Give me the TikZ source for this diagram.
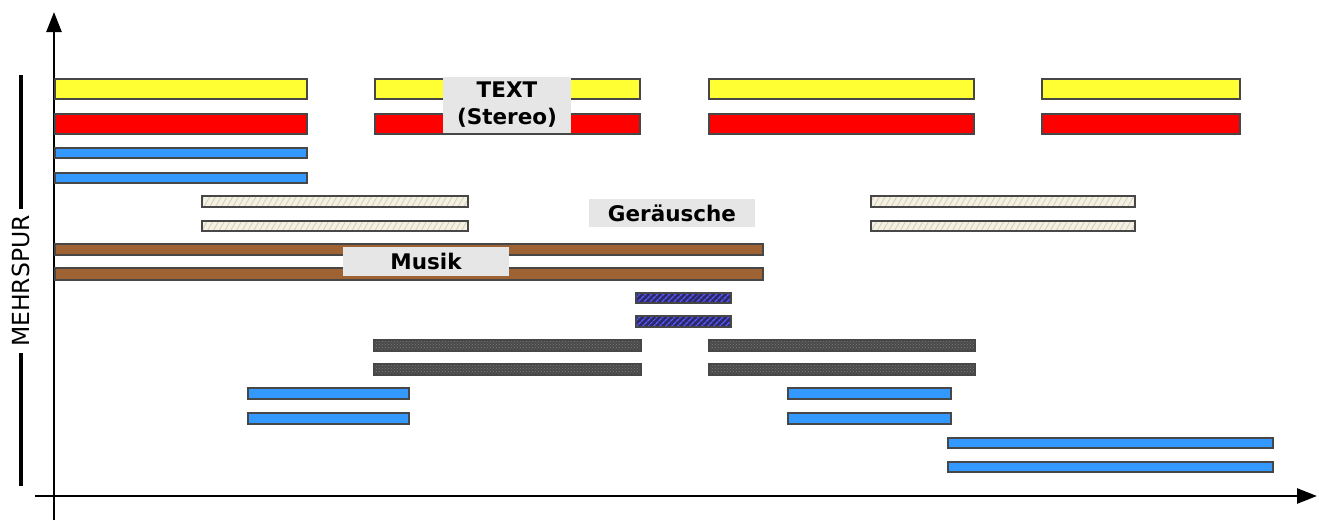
\documentclass[tikz,border=0pt]{standalone}
\usepackage{fontspec}
\setmainfont{DejaVu Sans}
\usetikzlibrary{arrows.meta,patterns,patterns.meta}

\definecolor{barline}{HTML}{474747}
\definecolor{txtyellow}{HTML}{FFFF33}
\definecolor{txtred}{HTML}{FF0000}
\definecolor{trackblue}{HTML}{3399FF}
\definecolor{music}{HTML}{9E6233}
\definecolor{noise}{HTML}{F4F0E2}
\definecolor{noiseline}{HTML}{D2CCBA}
\definecolor{darktrack}{HTML}{4A4A4A}
\definecolor{darkdots}{HTML}{7A7A7A}
\definecolor{hatchbase}{HTML}{2A2A6A}
\definecolor{hatchline}{HTML}{5A5AFF}
\definecolor{tag}{HTML}{E6E6E6}

\tikzset{
  axisline/.style={line width=2.5pt, -{Triangle[length=20pt,width=15pt]}},
  bar/.style={draw=barline, line width=2.6pt},
  textbar/.style={bar, fill=txtyellow},
  stereobar/.style={bar, fill=txtred},
  bluebar/.style={bar, fill=trackblue},
  musicbar/.style={bar, fill=music},
  noisebar/.style={bar, preaction={fill=noise},
    pattern={Lines[angle=60,distance=5pt,line width=0.8pt]}, pattern color=noiseline},
  hatchbar/.style={bar, preaction={fill=hatchbase},
    pattern={Lines[angle=45,distance=4pt,line width=1.4pt]}, pattern color=hatchline},
  darkbar/.style={bar, preaction={fill=darktrack},
    pattern=crosshatch dots, pattern color=darkdots},
  tagbox/.style={fill=tag, inner sep=0pt, align=center,
    font=\bfseries\fontsize{21.5}{27}\selectfont},
}

\begin{document}
\begin{tikzpicture}[x=1pt,y=-1pt]
\useasboundingbox (0,0) rectangle (1319,520);

% axes
\draw[axisline] (54,520) -- (54,12);
\draw[axisline] (35,496) -- (1317,496);

% side label with its bar
\draw[line width=3.8pt] (21,75) -- (21,486);
\node[fill=white, rotate=90, inner xsep=6pt, inner ysep=2pt,
      font=\fontsize{23.5}{27}\selectfont] (mehrspur) at (21,281) {MEHRSPUR};

% text tracks (stereo)
\foreach \a/\b in {55/307, 375/640, 709/974, 1042/1240}{
  \draw[textbar]   (\a,79)  rectangle (\b,99);
  \draw[stereobar] (\a,114) rectangle (\b,134);
}

% blue tracks, first block
\draw[bluebar] (55,148) rectangle (307,158);
\draw[bluebar] (55,173) rectangle (307,183);

% noise tracks
\foreach \a/\b in {202/468, 871/1135}{
  \draw[noisebar] (\a,196) rectangle (\b,207);
  \draw[noisebar] (\a,221) rectangle (\b,231);
}

% music tracks
\draw[musicbar] (55,244) rectangle (763,255);
\draw[musicbar] (55,268) rectangle (763,280);

% hatched tracks
\draw[hatchbar] (636,293) rectangle (731,303);
\draw[hatchbar] (636,316) rectangle (731,327);

% dark tracks
\foreach \a/\b in {374/641, 709/975}{
  \draw[darkbar] (\a,340) rectangle (\b,351);
  \draw[darkbar] (\a,364) rectangle (\b,375);
}

% blue tracks, later blocks
\foreach \a/\b in {248/409, 788/951}{
  \draw[bluebar] (\a,388) rectangle (\b,399);
  \draw[bluebar] (\a,413) rectangle (\b,424);
}
\draw[bluebar] (948,438) rectangle (1273,448);
\draw[bluebar] (948,462) rectangle (1273,472);

% labels
\node[tagbox, minimum width=128pt, minimum height=56pt] (text) at (507,105)
  {TEXT\\(Stereo)};
\node[tagbox, minimum width=166pt, minimum height=28pt] (geraeusche) at (672,213)
  {Geräusche};
\node[tagbox, minimum width=166pt, minimum height=29pt] (musik) at (426,261.5)
  {Musik};
\end{tikzpicture}
\end{document}
